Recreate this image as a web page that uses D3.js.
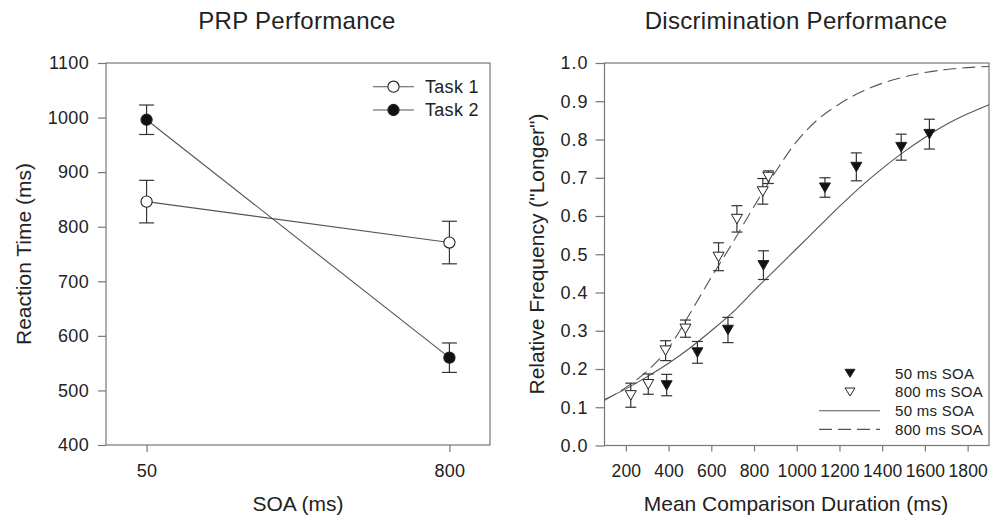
<!DOCTYPE html>
<html>
<head>
<meta charset="utf-8">
<script src="https://cdn.jsdelivr.net/npm/d3@7/dist/d3.min.js"></script>
<style>
  body { margin: 0; background: #fff; }
  svg { display: block; font-family: 'Liberation Sans', Arial, sans-serif; }
  .tick text { fill: #222; }
  .tick line { stroke: #777; }
</style>
</head>
<body>
<svg id="chart" width="997" height="518"></svg>
<script>
(function () {

'use strict';

// PRP panel
var soaLevels = ['50', '800'];
var task1Rt = [846, 771],
    task1Se = [39, 39];
var task2Rt = [996, 560],
    task2Se = [27, 27];
var rtTicks = [400, 500, 600, 700, 800, 900, 1000, 1100];

// discrimination panel, observed points
var soa50Dur = [391, 535, 678, 844, 1132, 1279, 1489, 1621],
    soa50Freq = [0.157, 0.243, 0.302, 0.471, 0.674, 0.728, 0.780, 0.814],
    soa50Hi = [0.186, 0.272, 0.335, 0.509, 0.700, 0.765, 0.814, 0.853],
    soa50Lo = [0.130, 0.215, 0.269, 0.434, 0.649, 0.692, 0.746, 0.775];
var soa800Dur = [223, 305, 386, 479, 634, 720, 841, 867],
    soa800Freq = [0.131, 0.160, 0.248, 0.305, 0.493, 0.592, 0.664, 0.702],
    soa800Hi = [0.163, 0.187, 0.274, 0.328, 0.530, 0.627, 0.698, 0.718],
    soa800Lo = [0.100, 0.134, 0.222, 0.283, 0.457, 0.558, 0.631, 0.685];

// fitted curves, every 100 ms
var fitDur = [100, 200, 300, 400, 500, 600, 700, 800, 900, 1000,
              1100, 1200, 1300, 1400, 1500, 1600, 1700, 1800, 1900];
var fit50 = [0.120, 0.148, 0.180, 0.215, 0.255, 0.300, 0.348, 0.405, 0.460, 0.515,
             0.570, 0.625, 0.677, 0.724, 0.767, 0.805, 0.839, 0.867, 0.891];
var fit800 = [0.118, 0.152, 0.195, 0.255, 0.345, 0.440, 0.530, 0.625, 0.715, 0.795,
              0.853, 0.893, 0.924, 0.947, 0.963, 0.975, 0.983, 0.988, 0.991];

var durTicks = [200, 400, 600, 800, 1000, 1200, 1400, 1600, 1800];
var freqTicks = [0, 0.1, 0.2, 0.3, 0.4, 0.5, 0.6, 0.7, 0.8, 0.9, 1.0];

var ink = '#222',
    lineGrey = '#555',
    frameGrey = '#777';

var svg = d3.select('#chart');

function frame(g, x0, x1, y0, y1) {
  g.append('rect')
    .attr('x', x0).attr('y', y0)
    .attr('width', x1 - x0).attr('height', y1 - y0)
    .attr('fill', 'none')
    .attr('stroke', frameGrey)
    .attr('stroke-width', 1.2);
}

function title(text, x, y) {
  svg.append('text')
    .attr('x', x).attr('y', y)
    .attr('text-anchor', 'middle')
    .attr('fill', ink)
    .style('font-size', '24px')
    .style('letter-spacing', '0.3px')
    .text(text);
}

function axisTitle(text, x, y, rotate) {
  svg.append('text')
    .attr('transform', 'translate(' + x + ',' + y + ')' + (rotate ? ' rotate(-90)' : ''))
    .attr('text-anchor', 'middle')
    .attr('fill', ink)
    .style('font-size', '21px')
    .text(text);
}

function errorBars(g, xs, lo, hi, half) {
  var bars = g.append('g')
    .attr('stroke', '#333')
    .attr('stroke-width', 1.2);
  xs.forEach(function (x, i) {
    bars.append('line').attr('x1', x).attr('x2', x).attr('y1', lo[i]).attr('y2', hi[i]);
    bars.append('line').attr('x1', x - half).attr('x2', x + half).attr('y1', lo[i]).attr('y2', lo[i]);
    bars.append('line').attr('x1', x - half).attr('x2', x + half).attr('y1', hi[i]).attr('y2', hi[i]);
  });
}

// ---------- left: PRP performance ----------
var L = {left: 106, right: 490, top: 63, bottom: 445};

var xSoa = d3.scalePoint()
  .domain(soaLevels)
  .range([L.left, L.right])
  .padding(0.134);

var yRt = d3.scaleLinear()
  .domain([400, 1100])
  .range([L.bottom, L.top]);

var left = svg.append('g');

left.append('g')
  .attr('transform', 'translate(' + L.left + ',0)')
  .call(d3.axisLeft(yRt).tickValues(rtTicks).tickFormat(d3.format('d')).tickSize(8).tickPadding(9))
  .call(function (g) { g.select('.domain').remove(); })
  .selectAll('text').style('font-size', '18px').style('letter-spacing', '0.3px');

left.append('g')
  .attr('transform', 'translate(0,' + L.bottom + ')')
  .call(d3.axisBottom(xSoa).tickSize(7).tickPadding(12))
  .call(function (g) { g.select('.domain').remove(); })
  .selectAll('text').style('font-size', '18px').style('letter-spacing', '0.3px');

left.selectAll('.tick line').attr('stroke-width', 1.2);

frame(left, L.left, L.right, L.top, L.bottom);

var rtLine = d3.line()
  .x(function (d, i) { return xSoa(soaLevels[i]); })
  .y(function (d) { return yRt(d); });

[task1Rt, task2Rt].forEach(function (series) {
  left.append('path')
    .attr('d', rtLine(series))
    .attr('fill', 'none')
    .attr('stroke', lineGrey)
    .attr('stroke-width', 1.1);
});

var soaX = soaLevels.map(function (s) { return xSoa(s); });
errorBars(left, soaX,
  task1Rt.map(function (v, i) { return yRt(v - task1Se[i]); }),
  task1Rt.map(function (v, i) { return yRt(v + task1Se[i]); }), 7.5);
errorBars(left, soaX,
  task2Rt.map(function (v, i) { return yRt(v - task2Se[i]); }),
  task2Rt.map(function (v, i) { return yRt(v + task2Se[i]); }), 7.5);

function circles(series, fill) {
  left.selectAll(null)
    .data(series)
    .enter()
    .append('circle')
    .attr('cx', function (d, i) { return xSoa(soaLevels[i]); })
    .attr('cy', function (d) { return yRt(d); })
    .attr('r', 5.6)
    .attr('fill', fill)
    .attr('stroke', '#222')
    .attr('stroke-width', 1.1);
}
circles(task1Rt, '#fff');
circles(task2Rt, '#111');

// legend
var taskLegend = [{label: 'Task 1', fill: '#fff'}, {label: 'Task 2', fill: '#111'}];
taskLegend.forEach(function (d, i) {
  var y = 86.7 + i * 23.3;
  left.append('line')
    .attr('x1', 373).attr('x2', 414).attr('y1', y).attr('y2', y)
    .attr('stroke', lineGrey).attr('stroke-width', 1.1);
  left.append('circle')
    .attr('cx', 393.5).attr('cy', y).attr('r', 5.6)
    .attr('fill', d.fill).attr('stroke', '#222').attr('stroke-width', 1.1);
  left.append('text')
    .attr('x', 425).attr('y', y + 6.3)
    .attr('fill', ink)
    .style('font-size', '18px')
    .style('letter-spacing', '0.3px')
    .text(d.label);
});

title('PRP Performance', 297, 29);
axisTitle('Reaction Time (ms)', 31, 254, true);
axisTitle('SOA (ms)', 298, 511, false);

// ---------- right: discrimination performance ----------
var R = {left: 604.5, right: 989, top: 63, bottom: 445.5};

var xDur = d3.scaleLinear()
  .domain([100, 1900])
  .range([R.left, R.right]);

var yFreq = d3.scaleLinear()
  .domain([0, 1])
  .range([R.bottom, R.top]);

var right = svg.append('g');

right.append('g')
  .attr('transform', 'translate(' + R.left + ',0)')
  .call(d3.axisLeft(yFreq).tickValues(freqTicks).tickFormat(d3.format('.1f')).tickSize(9).tickPadding(7))
  .call(function (g) { g.select('.domain').remove(); })
  .selectAll('text').style('font-size', '18px').style('letter-spacing', '1px');

right.append('g')
  .attr('transform', 'translate(0,' + R.bottom + ')')
  .call(d3.axisBottom(xDur).tickValues(durTicks).tickFormat(d3.format('d')).tickSize(6).tickPadding(13))
  .call(function (g) { g.select('.domain').remove(); })
  .selectAll('text').style('font-size', '17.5px').style('letter-spacing', '0.1px');

right.selectAll('.tick line').attr('stroke-width', 1.2);

frame(right, R.left, R.right, R.top, R.bottom);

var fitLine = d3.line()
  .x(function (d, i) { return xDur(fitDur[i]); })
  .y(function (d) { return yFreq(d); })
  .curve(d3.curveMonotoneX);

right.append('path')
  .attr('d', fitLine(fit50))
  .attr('fill', 'none')
  .attr('stroke', lineGrey)
  .attr('stroke-width', 1.1);

right.append('path')
  .attr('d', fitLine(fit800))
  .attr('fill', 'none')
  .attr('stroke', lineGrey)
  .attr('stroke-width', 1.1)
  .attr('stroke-dasharray', '13,6');

errorBars(right, soa800Dur.map(xDur), soa800Lo.map(yFreq), soa800Hi.map(yFreq), 5.5);
errorBars(right, soa50Dur.map(xDur), soa50Lo.map(yFreq), soa50Hi.map(yFreq), 5.5);

// downward triangle centred on its bounding box
function downTriangle(w, h) {
  return 'M' + (-w / 2) + ',' + (-h / 2) + 'L' + (w / 2) + ',' + (-h / 2) + 'L0,' + (h / 2) + 'Z';
}

function triangles(xs, ys, fill, w, h) {
  right.selectAll(null)
    .data(xs)
    .enter()
    .append('path')
    .attr('d', downTriangle(w, h))
    .attr('transform', function (d, i) { return 'translate(' + xDur(d) + ',' + yFreq(ys[i]) + ')'; })
    .attr('fill', fill)
    .attr('stroke', '#222')
    .attr('stroke-width', 1);
}
triangles(soa800Dur, soa800Freq, '#fff', 11, 9.5);
triangles(soa50Dur, soa50Freq, '#111', 11, 9.5);

// legend
var soaLegend = [
  {label: '50 ms SOA', kind: 'marker', fill: '#111'},
  {label: '800 ms SOA', kind: 'marker', fill: '#fff'},
  {label: '50 ms SOA', kind: 'line', dash: null},
  {label: '800 ms SOA', kind: 'line', dash: '13,6'}
];
soaLegend.forEach(function (d, i) {
  var y = 373.3 + i * 18.7;
  if (d.kind === 'marker') {
    right.append('path')
      .attr('d', downTriangle(10, 8))
      .attr('transform', 'translate(850,' + y + ')')
      .attr('fill', d.fill).attr('stroke', '#222').attr('stroke-width', 1);
  } else {
    right.append('line')
      .attr('x1', 819).attr('x2', 880).attr('y1', y).attr('y2', y)
      .attr('stroke', lineGrey).attr('stroke-width', 1.1)
      .attr('stroke-dasharray', d.dash);
  }
  right.append('text')
    .attr('x', 895).attr('y', y + 5.3)
    .attr('fill', ink)
    .style('font-size', '15px')
    .style('letter-spacing', '0.3px')
    .text(d.label);
});

title('Discrimination Performance', 796, 29);
axisTitle('Relative Frequency ("Longer")', 544, 254, true);
axisTitle('Mean Comparison Duration (ms)', 796, 511, false);

})();
</script>
</body>
</html>
